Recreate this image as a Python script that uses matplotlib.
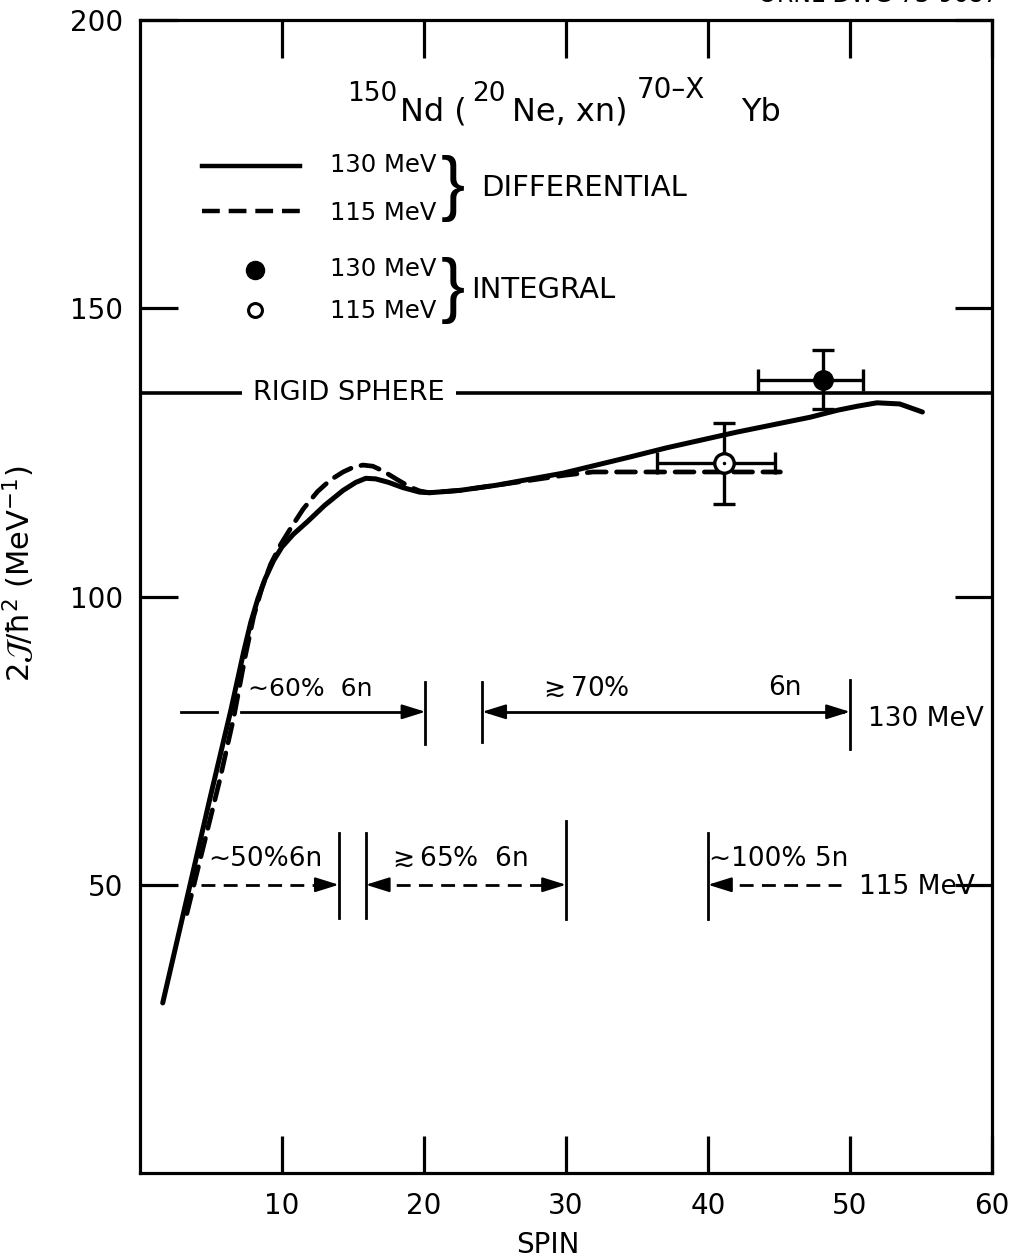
import numpy as np
import matplotlib.pyplot as plt

plt.rcParams['font.family'] = ['DejaVu Sans']
plt.rcParams['mathtext.default'] = 'regular'

# differential moment of inertia, 130 MeV (solid)
spin_130 = [1.6, 3.6, 4.9, 6.4, 7.3, 7.8, 8.3, 8.8, 9.4, 10.0, 10.8, 11.8, 13.0, 14.3, 15.2, 15.9,
            16.6, 17.5, 18.5, 19.7, 20.4, 22.5, 25.1, 29.8, 34.5, 37.1, 42.0, 47.2, 49.1, 50.5,
            51.9, 53.5, 55.1]
mom_130 = [29.5, 50.8, 64.7, 80.3, 90.4, 95.5, 99.6, 103.0, 106.2, 108.6, 110.8, 113.0, 115.8, 118.4,
           119.8, 120.5, 120.4, 119.8, 118.9, 118.1, 118.0, 118.4, 119.3, 121.4, 124.2, 125.8, 128.5,
           131.1, 132.3, 133.0, 133.6, 133.4, 132.0]

# differential, 115 MeV (dashed)
spin_115 = [3.3, 4.5, 5.6, 6.6, 7.4, 8.0, 8.6, 9.2, 9.9, 10.6, 11.5, 12.5, 13.4, 14.3, 15.0, 15.7,
            16.4, 17.1, 18.1, 19.0, 19.7, 20.4, 22.5, 25.1, 29.8, 31.9, 34.0, 38.0, 42.0, 45.1]
mom_115 = [45.0, 57.0, 68.0, 79.0, 89.5, 96.5, 101.6, 105.6, 109.0, 111.8, 115.2, 118.2, 120.2, 121.6,
           122.4, 122.8, 122.6, 121.8, 120.3, 119.0, 118.3, 118.0, 118.4, 119.3, 121.0, 121.6, 121.6,
           121.6, 121.6, 121.6]

# integral points: spin, value, xerr(-,+), yerr(-,+)
int_130 = (48.1, 137.6, 4.6, 2.8, 5.1, 5.2)
int_115 = (41.1, 123.2, 4.7, 3.6, 7.2, 6.9)

rigid_sphere = 135.3

fig = plt.figure(figsize=(10.14, 12.6), dpi=100)
ax = fig.add_axes([140/1014, 1-1173/1260, (992-140)/1014, (1173-20)/1260])
ax.set_xlim(0, 60)
ax.set_ylim(0, 200)

for s in ax.spines.values():
    s.set_linewidth(2.3)
ax.set_xticks([10, 20, 30, 40, 50, 60])
ax.set_yticks([50, 100, 150, 200])
ax.tick_params(direction='in', length=27, width=2.3, top=True, right=True, labelsize=20, pad=12)
ax.tick_params(axis='x', pad=14)

fig.text(548/1014, (1260-1245)/1260, 'SPIN', fontsize=20, ha='center', va='center')
ax.set_ylabel(r'$2\mathcal{J}/\hbar^2$ (MeV$^{-1}$)', fontsize=22)
ax.yaxis.set_label_coords(-0.121, 0.52)

# curves
ax.plot(spin_130, mom_130, color='k', lw=3.6, solid_capstyle='round', solid_joinstyle='round')
ax.plot(spin_115, mom_115, color='k', lw=3.4, dashes=(4, 2.2), dash_capstyle='round')

# integral points
x, y, xm, xp, ym, yp = int_130
ax.errorbar(x, y, xerr=[[xm], [xp]], yerr=[[ym], [yp]], fmt='o', color='k', ms=14,
            capsize=8, elinewidth=2.4, capthick=2.4, zorder=5)
x, y, xm, xp, ym, yp = int_115
ax.errorbar(x, y, xerr=[[xm], [xp]], yerr=[[ym], [yp]], fmt='o', color='k', mfc='white',
            mec='k', mew=2.4, ms=14, capsize=8, elinewidth=2.4, capthick=2.4, zorder=5)
ax.plot(x, y, 'k.', ms=3, zorder=6)

# rigid sphere
ax.axhline(rigid_sphere, color='k', lw=2.6)
ax.text(14.7, rigid_sphere, 'RIGID SPHERE', fontsize=19.5, ha='center', va='center',
        bbox=dict(facecolor='white', edgecolor='none', pad=8))

# title, built in pieces so the superscripts stay large
ax.text(14.6, 186.0, '150', fontsize=19, ha='left', va='baseline')
ax.text(18.3, 182.5, 'Nd (', fontsize=23, ha='left', va='baseline')
ax.text(23.4, 186.0, '20', fontsize=19, ha='left', va='baseline')
ax.text(26.2, 182.5, 'Ne, xn)', fontsize=23, ha='left', va='baseline')
ax.text(35.0, 186.4, '70–X', fontsize=20, ha='left', va='baseline')
ax.text(42.3, 182.5, 'Yb', fontsize=23, ha='left', va='baseline')

# legend block
ax.plot([4.4, 11.3], [174.6, 174.6], color='k', lw=3.2)
ax.plot([4.4, 11.3], [166.8, 166.8], color='k', lw=3.2, dashes=(4, 2))
ax.text(13.4, 174.8, '130 MeV', fontsize=17.5, va='center')
ax.text(13.4, 166.6, '115 MeV', fontsize=17.5, va='center')
ax.text(22.0, 170.8, '}', fontsize=52, va='center', ha='center', family='Liberation Sans')
ax.text(24.0, 170.9, 'DIFFERENTIAL', fontsize=21, va='center')

ax.plot(8.1, 156.6, 'ko', ms=13)
ax.plot(8.1, 149.7, 'o', mfc='white', mec='k', mew=2.2, ms=10)
ax.text(13.4, 156.8, '130 MeV', fontsize=17.5, va='center')
ax.text(13.4, 149.5, '115 MeV', fontsize=17.5, va='center')
ax.text(22.0, 153.1, '}', fontsize=52, va='center', ha='center', family='Liberation Sans')
ax.text(23.3, 153.2, 'INTEGRAL', fontsize=21, va='center')


def head(xe, y, d):
    ax.annotate('', xy=(xe, y), xytext=(xe - d, y),
                arrowprops=dict(arrowstyle='-|>,head_length=0.8,head_width=0.25', mutation_scale=18,
                                color='k', lw=1.6, shrinkA=0, shrinkB=0))


def bar(xb, y0, y1):
    ax.plot([xb, xb], [y0, y1], color='k', lw=2.0)


# 130 MeV windows
y1 = 80
ax.plot([2.9, 5.4], [y1, y1], color='k', lw=2.0)
ax.plot([7.1, 19.5], [y1, y1], color='k', lw=2.0)
head(20.1, y1, 1.2)
bar(20.1, 74.5, 85.2)
bar(24.1, 74.8, 85.2)
ax.plot([24.6, 49.5], [y1, y1], color='k', lw=2.0)
head(24.1, y1, -1.2)
head(50.0, y1, 1.2)
bar(50.0, 73.5, 85.5)
ax.text(7.6, 81.8, '∼60%  6n', fontsize=18, va='bottom')
ax.text(28.0, 81.8, r'$\gtrsim$70%', fontsize=19, va='bottom')
ax.text(44.2, 81.8, '6n', fontsize=19, va='bottom')
ax.text(51.3, 78.8, '130 MeV', fontsize=19, va='center')

# 115 MeV windows
y2 = 50
ax.plot([4.3, 13.4], [y2, y2], color='k', lw=2.0, dashes=(5, 3))
head(14.0, y2, 1.2)
bar(14.0, 44.2, 59.0)
bar(15.9, 44.2, 59.0)
ax.plot([16.5, 29.4], [y2, y2], color='k', lw=2.0, dashes=(5, 3))
head(15.9, y2, -1.2)
head(30.0, y2, 1.2)
bar(30.0, 44.0, 61.0)
bar(40.0, 44.0, 59.0)
ax.plot([40.6, 49.4], [y2, y2], color='k', lw=2.0, dashes=(5, 3))
head(40.0, y2, -1.2)
ax.text(4.8, 52.2, '∼50%6n', fontsize=19, va='bottom')
ax.text(17.4, 52.2, r'$\gtrsim$65%  6n', fontsize=19, va='bottom')
ax.text(40.1, 52.2, '∼100% 5n', fontsize=19, va='bottom')
ax.text(50.6, 49.6, '115 MeV', fontsize=19, va='center')

fig.text(0.985, 1.004, 'ORNL-DWG 73-9687', fontsize=17, ha='right', va='center')

fig.savefig('out.png', dpi=100)
